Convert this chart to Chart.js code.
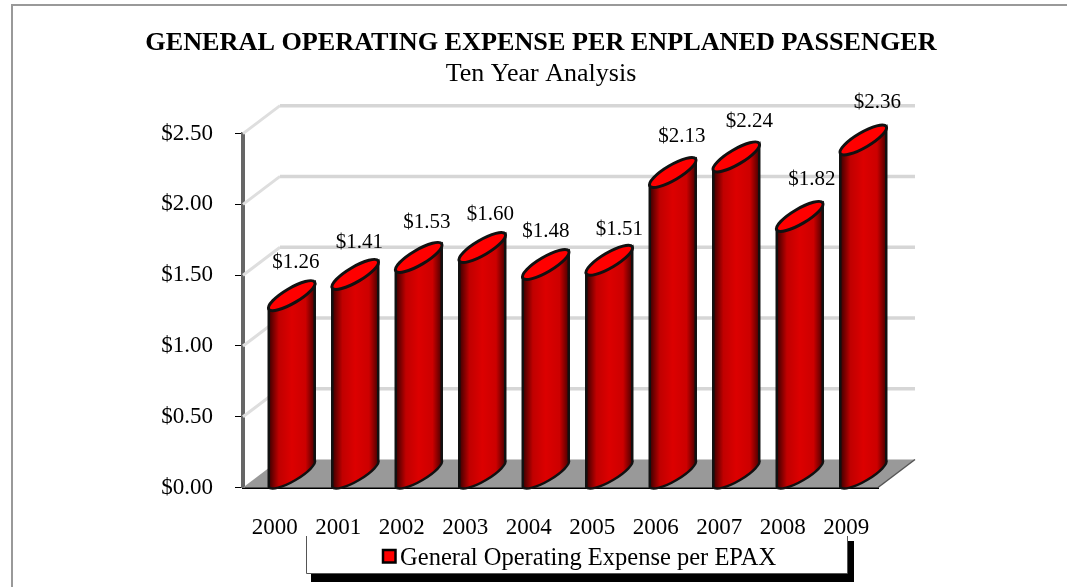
<!DOCTYPE html>
<html>
<head>
<meta charset="utf-8">
<title>General Operating Expense per Enplaned Passenger</title>
<script src="https://cdn.jsdelivr.net/npm/chart.js@4"></script>
<style>
  html, body { margin: 0; padding: 0; background: #fff; overflow: hidden; }
  #wrap { position: relative; width: 1067px; height: 587px; }
</style>
</head>
<body>
<div id="wrap"><canvas id="myChart" width="1067" height="587"></canvas></div>
<script>
const years = ["2000", "2001", "2002", "2003", "2004", "2005", "2006", "2007", "2008", "2009"];
const expense = [1.26, 1.41, 1.53, 1.60, 1.48, 1.51, 2.13, 2.24, 1.82, 2.36];
const seriesName = "General Operating Expense per EPAX";
const yTicks = [0, 0.5, 1, 1.5, 2, 2.5];

const serif = "'Liberation Serif', 'Times New Roman', serif";
const depthX = 37, depthY = 28;   // how far the back wall sits from the front
const labelNudge = [-4, -4, 0, 0, -8, 2, 1, 5, 4, 6];
const labelDrop = [1, 3, 0, 1, 1, 4, -2, -1, -2, -3];

const money = v => "$" + Number(v).toFixed(2);

function cylinder(ctx, bar) {
  const w = bar.width;
  const left = bar.x + 17 - w / 2, right = left + w;
  const rise = 27;
  const rx = Math.hypot(w, rise) / 2, ry = 7.5;
  const rot = -Math.atan2(rise, w);
  const cx = (left + right) / 2;
  const topY = bar.y - rise / 2, baseY = bar.base - rise / 2;

  const grad = ctx.createLinearGradient(left, 0, right, 0);
  grad.addColorStop(0, "#3a0000");
  grad.addColorStop(0.22, "#c00000");
  grad.addColorStop(0.5, "#dc0000");
  grad.addColorStop(0.8, "#cc0000");
  grad.addColorStop(1, "#4a0000");

  ctx.beginPath();
  ctx.ellipse(cx, baseY, rx, ry, rot, Math.PI, 0, true);
  ctx.lineTo(right, bar.y - rise);
  ctx.lineTo(left, bar.y);
  ctx.closePath();
  ctx.fillStyle = grad;
  ctx.fill();
  ctx.lineWidth = 2.5;
  ctx.strokeStyle = "#111";
  ctx.stroke();

  ctx.beginPath();
  ctx.ellipse(cx, topY, rx, ry, rot, 0, Math.PI * 2);
  ctx.fillStyle = "#ff0000";
  ctx.fill();
  ctx.lineWidth = 3;
  ctx.strokeStyle = "#111";
  ctx.stroke();
}

const frame3d = {
  id: "frame3d",
  afterLayout(chart) {
    // title and legend sit off centre in the original
    chart.boxes.forEach(b => {
      if (b === chart.legend) {
        const dx = 579 - (b.left + b.right) / 2;
        b.left += dx;
        b.right += dx;
        b.top = 538;
      } else if (b.options && b.options.text) {
        const dx = 541 - (b.left + b.right) / 2;
        b.left += dx;
        b.right += dx;
      }
    });
  },
  beforeDraw(chart) {
    const ctx = chart.ctx;
    ctx.save();
    // outer border
    ctx.strokeStyle = "#999";
    ctx.lineWidth = 2;
    ctx.beginPath();
    ctx.moveTo(12, 587);
    ctx.lineTo(12, 5);
    ctx.lineTo(1067, 5);
    ctx.stroke();
    // legend box with its shadow
    ctx.fillStyle = "#000";
    ctx.fillRect(311, 541, 543, 41);
    ctx.fillStyle = "#fff";
    ctx.fillRect(306, 536, 541, 37);
    ctx.strokeStyle = "#555";
    ctx.lineWidth = 1;
    ctx.beginPath();
    ctx.moveTo(306.5, 536);
    ctx.lineTo(306.5, 573.5);
    ctx.lineTo(847.5, 573.5);
    ctx.lineTo(847.5, 536);
    ctx.stroke();
    ctx.restore();
  },
  beforeDatasetsDraw(chart) {
    const ctx = chart.ctx, a = chart.chartArea, y = chart.scales.y;
    ctx.save();
    // floor
    ctx.fillStyle = "#999";
    ctx.beginPath();
    ctx.moveTo(a.left, a.bottom);
    ctx.lineTo(a.left + depthX, a.bottom - depthY);
    ctx.lineTo(a.right + depthX, a.bottom - depthY);
    ctx.lineTo(a.right, a.bottom);
    ctx.closePath();
    ctx.fill();
    ctx.strokeStyle = "#555";
    ctx.lineWidth = 1.5;
    ctx.beginPath();
    ctx.moveTo(a.right, a.bottom);
    ctx.lineTo(a.right + depthX, a.bottom - depthY);
    ctx.stroke();
    // side wall and back wall grid lines
    yTicks.forEach(t => {
      if (t === 0) return;
      const py = y.getPixelForValue(t);
      ctx.strokeStyle = "#dedede";
      ctx.lineWidth = 3;
      ctx.beginPath();
      ctx.moveTo(a.left, py);
      ctx.lineTo(a.left + depthX, py - depthY);
      ctx.stroke();
      ctx.strokeStyle = "#d6d6d6";
      ctx.lineWidth = 3.5;
      ctx.beginPath();
      ctx.moveTo(a.left + depthX, py - depthY);
      ctx.lineTo(a.right + depthX, py - depthY);
      ctx.stroke();
    });
    ctx.restore();
  },
  beforeDatasetDraw() {
    return false;   // bars are drawn as cylinders below
  },
  afterDatasetsDraw(chart) {
    const ctx = chart.ctx;
    const bars = chart.getDatasetMeta(0).data;
    ctx.save();
    bars.forEach(b => cylinder(ctx, b));
    ctx.fillStyle = "#000";
    ctx.font = "21px " + serif;
    ctx.textAlign = "center";
    ctx.textBaseline = "middle";
    bars.forEach((b, i) => {
      ctx.fillText(money(expense[i]), b.x + 25 + labelNudge[i], b.y - 48 + labelDrop[i]);
    });
    ctx.restore();
  },
  afterDraw(chart) {
    // legend swatch sits closer to its text than the library puts it
    const ctx = chart.ctx;
    ctx.save();
    ctx.fillStyle = "#ff0000";
    ctx.strokeStyle = "#000";
    ctx.lineWidth = 2.5;
    ctx.fillRect(383, 550, 12.5, 12.5);
    ctx.strokeRect(383, 550, 12.5, 12.5);
    ctx.restore();
  }
};

new Chart(document.getElementById("myChart"), {
  type: "bar",
  data: {
    labels: years,
    datasets: [{
      label: seriesName,
      data: expense,
      backgroundColor: "#ff0000",
      borderColor: "#000",
      borderWidth: 2,
      categoryPercentage: 1,
      barPercentage: 0.724
    }]
  },
  options: {
    responsive: false,
    animation: false,
    layout: { padding: { left: 16, right: 189, top: 0, bottom: 0 } },
    plugins: {
      title: {
        display: true,
        text: "GENERAL OPERATING EXPENSE PER ENPLANED PASSENGER",
        color: "#000",
        font: { family: serif, size: 26.2, weight: "bold" },
        padding: { top: 28, bottom: -1 }
      },
      subtitle: {
        display: true,
        text: "Ten Year Analysis",
        color: "#000",
        font: { family: serif, size: 26, weight: "normal" },
        padding: { top: 0, bottom: 44 }
      },
      legend: {
        position: "bottom",
        labels: {
          color: "#000",
          font: { family: serif, size: 24.5 },
          boxWidth: 6,
          boxHeight: 14,
          padding: 8,
          generateLabels(chart) {
            const items = Chart.defaults.plugins.legend.labels.generateLabels(chart);
            items.forEach(it => { it.fillStyle = "transparent"; it.strokeStyle = "transparent"; });
            return items;
          }
        }
      },
      tooltip: { enabled: false }
    },
    scales: {
      x: {
        grid: { display: false, drawTicks: false },
        border: { color: "#000", width: 2 },
        ticks: { color: "#000", font: { family: serif, size: 23 }, padding: 27, maxRotation: 0 },
        afterFit(s) { s.height = 57; }
      },
      y: {
        min: 0,
        max: 2.5,
        grid: { drawOnChartArea: false, color: "#000", tickLength: 8 },
        border: { color: "#666", width: 4 },
        ticks: {
          stepSize: 0.5,
          color: "#000",
          font: { family: serif, size: 23 },
          padding: 22,
          callback: money
        },
        afterFit(s) { s.width = 227; }
      }
    }
  },
  plugins: [frame3d]
});
</script>
</body>
</html>
